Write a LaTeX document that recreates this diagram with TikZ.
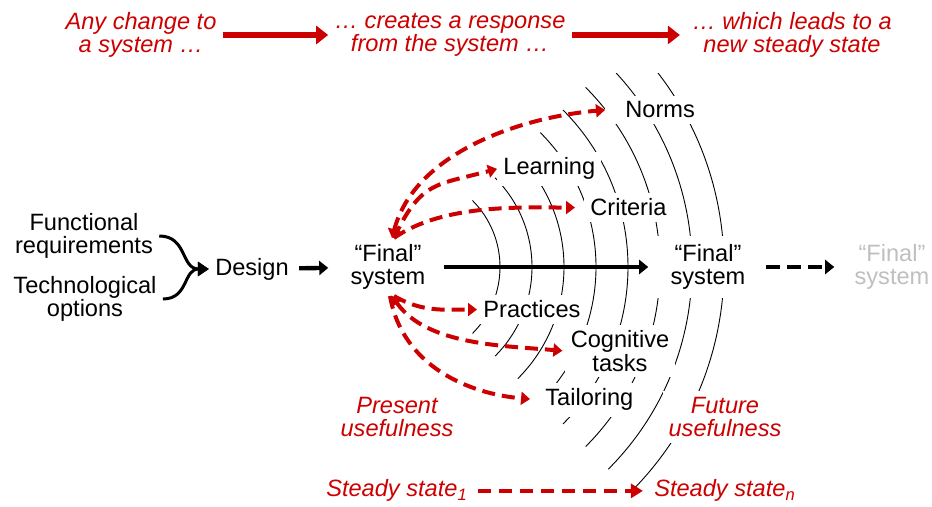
\documentclass[tikz,border=0pt]{standalone}
\usepackage{fontspec}
\setmainfont{Liberation Sans}
\usetikzlibrary{arrows.meta}
\definecolor{usered}{RGB}{204,0,0}
\definecolor{fadegray}{RGB}{191,191,191}
\tikzset{
	lbl/.style={fill=white,align=center},
	redtxt/.style={text=usered,font=\fontsize{11.8}{11.6}\selectfont\itshape,align=center},
	bigarrow/.style={usered,line width=3pt,-{Triangle[length=6pt,width=9pt]}},
	blkarrow/.style={line width=2.2pt,-{Triangle[length=4.5pt,width=7pt]}},
	reddash/.style={usered,line width=2pt,dash pattern=on 6.5pt off 3.5pt,-{Triangle[length=4.5pt,width=6.5pt]}},
	backtip/.style={{Triangle[length=4.5pt,width=6.5pt]}-{Triangle[length=4.5pt,width=6.5pt]}},
	ring/.style={line width=0.45pt}
}
\begin{document}
\begin{tikzpicture}[x=0.5pt,y=0.5pt,line join=round,font=\fontsize{11.8}{11.6}\selectfont,inner sep=3pt]
			\def\cx{406} \def\cy{240} \def\ytop{433}
			\useasboundingbox (0,0) rectangle (932,507);
			% rings round the system
			\begin{scope}
				\clip (0,0) rectangle (932,\ytop);
				\foreach \r in {94,126,...,318}
					\draw[ring] (\cx,\cy) ++(-45:\r) arc[start angle=-45,end angle=45,radius=\r];
			\end{scope}
			% headline
			\node[redtxt] (change) at (141,472) {Any change to\\a system …};
			\node[redtxt] (response) at (450,472) {… creates a response\\from the system …};
			\node[redtxt] (newstate) at (792,472) {… which leads to a\\new steady state};
			\draw[bigarrow] (change) -- (response);
			\draw[bigarrow,shorten >=3pt] (response) -- (newstate);
			% design chain
			\node[align=center] (func) at (84,271) {Functional\\requirements};
			\node[align=center] (tech) at (85,208) {Technological\\options};
			\node (design) at (252,238) {Design};
			\node[lbl] (fin1) at (388,240) {“Final”\\system};
			\node[lbl,inner xsep=9pt,inner ysep=4pt] (fin2) at (708,240) {“Final”\\system};
			\node[text=fadegray,align=center] (fin3) at (892,240) {“Final”\\system};
			\draw[line width=1.5pt,-{Triangle[length=5.5pt,width=7pt]}] (func.east) to[out=0,in=180,looseness=1.2] (design.west);
			\draw[line width=1.5pt,-{Triangle[length=5.5pt,width=7pt]}] (tech.east) to[out=0,in=180,looseness=1.2] (design.west);
			\draw[blkarrow,shorten <=2pt,shorten >=8pt] (design) -- (fin1);
			\draw[blkarrow,shorten <=6pt,shorten >=2pt] (fin1) -- (fin2);
			\draw[blkarrow,line width=2pt,dash pattern=on 7pt off 3.5pt,shorten <=1pt,shorten >=7pt] (fin2) -- (fin3);
			% what the system responds with
			\node[lbl,inner xsep=10pt,anchor=base west] (norms) at (605,389) {Norms};
			\node[lbl,anchor=base west] (learning) at (497,332) {Learning};
			\node[lbl,anchor=base west] (criteria) at (584,291) {Criteria};
			\node[lbl,anchor=base west] (practices) at (477,189) {Practices};
			\node[lbl] (cogtasks) at (620,156) {Cognitive\\tasks};
			\node[lbl,anchor=base west] (tailoring) at (539,101) {Tailoring};
			\draw[reddash,backtip] ([xshift=2pt]fin1.north) to[out=75,in=185,looseness=0.9] (norms.west);
			\draw[reddash] ([xshift=3pt]fin1.north) to[out=65,in=195,looseness=1.3] (learning.west);
			\draw[reddash,shorten >=4.5pt] ([xshift=3pt]fin1.north) to[out=35,in=180,looseness=0.8] (criteria.west);
			\draw[reddash] ([xshift=3pt]fin1.south) to[out=-30,in=180] (practices.west);
			\draw[reddash,backtip,shorten >=1pt] ([xshift=2pt]fin1.south) to[out=-55,in=175,looseness=0.85] (cogtasks.west);
			\draw[reddash,shorten >=4.5pt] ([xshift=1pt]fin1.south) to[out=-80,in=175] (tailoring.west);
			% usefulness and steady states
			\node[redtxt] (present) at (397,90) {Present\\usefulness};
			\node[lbl,redtxt] (future) at (725,90) {Future\\usefulness};
			\node[redtxt,anchor=base] (state1) at (397,10) {Steady state\textsubscript{1}};
			\node[redtxt,anchor=base] (staten) at (725,10) {Steady state\textsubscript{n}};
			\draw[usered,line width=2.3pt,dash pattern=on 6.5pt off 4pt,-{Triangle[length=6pt,width=7pt]},shorten <=2pt,shorten >=2.5pt] (state1) -- (staten);
		\end{tikzpicture}
\end{document}
